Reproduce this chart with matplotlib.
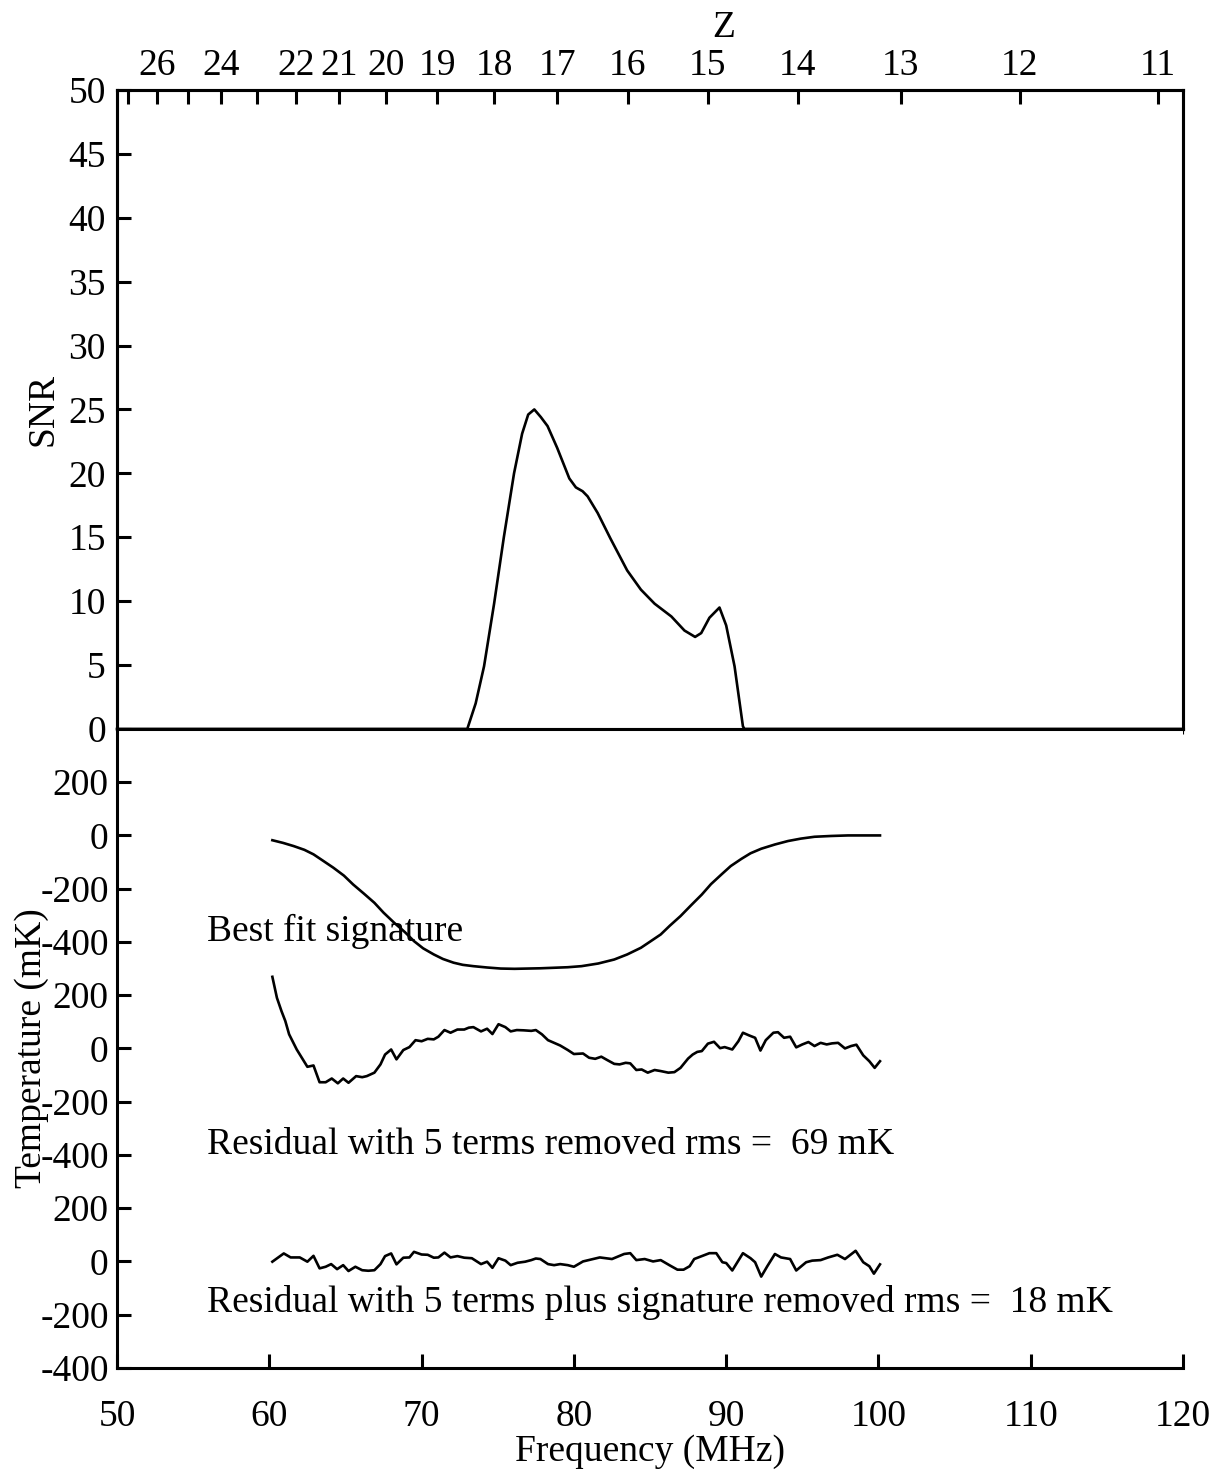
import numpy as np
import matplotlib
matplotlib.use("Agg")
import matplotlib.pyplot as plt

plt.rcParams['font.family'] = ['Liberation Serif', 'DejaVu Serif']
plt.rcParams['font.size'] = 27

# SNR versus frequency (top panel)
snr_freq = [50, 73.0, 73.55, 74.1, 74.76, 75.4, 76.07, 76.6, 77.0, 77.4, 77.83, 78.27,
            78.9, 79.7, 80.13, 80.57, 80.9, 81.56, 82.4, 83.5, 84.4, 85.3, 86.4, 87.26,
            87.96, 88.36, 88.9, 89.56, 90.0, 90.55, 91.1, 91.2, 120]
snr = [0, 0, 2.0, 4.9, 9.8, 15.0, 20.0, 23.1, 24.6, 25.0, 24.4, 23.7,
       22.0, 19.6, 18.9, 18.6, 18.2, 16.9, 14.9, 12.4, 10.9, 9.8, 8.8, 7.7,
       7.2, 7.5, 8.7, 9.5, 8.1, 4.9, 0.2, 0, 0]

# best fit signature (mK)
sig_freq = [60.2, 60.9, 61.6, 62.3, 62.9, 63.5, 64.2, 64.9, 65.5, 66.2, 66.9, 67.5,
            68.2, 68.9, 69.5, 70.1, 70.8, 71.4, 72.1, 72.7, 73.4, 74.3, 75.2,
            76.1, 76.95, 77.8, 78.7, 79.6, 80.5, 81.6, 82.65, 83.5, 84.4, 85.0,
            85.7, 86.3, 87.0, 87.7, 88.4, 89.0, 89.7, 90.3, 91.0, 91.6, 92.3,
            93.2, 94.06, 94.9, 95.8, 96.9, 98.0, 100.1]
sig = [-18, -28, -40, -54, -71, -94, -121, -151, -184, -218, -253, -290,
       -328, -363, -397, -424, -447, -464, -478, -486, -491, -496, -500,
       -501, -500, -499, -497, -495, -491, -481, -466, -447, -422, -399,
       -372, -339, -303, -262, -222, -183, -146, -115, -88, -67, -50,
       -34, -21, -12, -5, -2, 0, 0]

# residual with 5 terms removed (mK)
res5_freq = [60.2, 60.5, 60.8, 61.05, 61.3, 61.8, 62.5, 62.9, 63.3, 63.7,
             64.1, 64.5, 64.85, 65.2, 65.7, 66.1, 66.4, 66.9, 67.3, 67.6,
             68.0, 68.35, 68.8, 69.2, 69.6, 70.0, 70.4, 70.8, 71.1, 71.5,
             71.9, 72.35, 72.8, 73.1, 73.4, 73.9, 74.3, 74.65, 75.05, 75.5,
             75.85, 76.25, 76.7, 77.2, 77.5, 77.9, 78.3, 78.7, 79.1, 79.6, 80.0,
             80.6, 81.0, 81.4, 81.8, 82.2, 82.65, 83.0, 83.4, 83.7, 84.1,
             84.45, 84.85, 85.3, 85.7, 86.2, 86.6, 87.0, 87.5, 87.8, 88.1,
             88.4, 88.8, 89.2, 89.6, 89.9, 90.4, 90.8, 91.1, 91.5, 91.9,
             92.25, 92.6, 93.1, 93.4, 93.8, 94.2, 94.6, 95.0, 95.4, 95.8,
             96.2, 96.6, 96.95, 97.35, 97.8, 98.2, 98.55, 99.0, 99.4, 99.75, 100.1]
res5 = [269, 190, 140, 103, 53, -4, -69, -64, -127, -127,
        -113, -131, -113, -129, -104, -108, -104, -91, -60, -23,
        -4, -41, -6, 5, 31, 27, 36, 34, 44, 69,
        59, 71, 71, 78, 80, 64, 74, 54, 91, 80,
        64, 69, 68, 66, 69, 53, 31, 21, 11, -6, -21,
        -19, -35, -39, -31, -44, -58, -60, -54, -56, -81,
        -79, -91, -81, -85, -91, -89, -73, -38, -23, -13,
        -10, 18, 25, 1, 5, -4, 27, 59, 49, 40,
        -8, 31, 59, 61, 40, 44, 4, 15, 24, 9,
        21, 15, 19, 21, 0, 9, 14, -26, -48, -73, -48]

# residual with 5 terms plus signature removed (mK)
ressig_freq = [60.2, 60.95, 61.4, 62.0, 62.5, 62.9, 63.3, 63.7, 64.06, 64.45,
               64.85, 65.2, 65.65, 66.1, 66.5, 66.9, 67.3, 67.6, 68.0, 68.35,
               68.8, 69.2, 69.5, 70.0, 70.4, 70.8, 71.1, 71.5, 71.9, 72.35,
               72.8, 73.3, 73.9, 74.3, 74.65, 75.05, 75.5, 75.85, 76.3, 76.8,
               77.2, 77.5, 77.8, 78.3, 78.7, 79.1, 79.6, 80.0,
               80.6, 81.7, 82.5, 83.3, 83.7, 84.1, 84.65, 85.2, 85.7, 86.3,
               86.8, 87.2, 87.6, 87.9, 88.4, 88.9, 89.35, 89.75, 90.0, 90.4,
               91.1, 91.6, 91.9, 92.3, 92.7, 93.2, 93.6, 94.2, 94.6, 95.25,
               95.65, 96.2, 96.7, 97.3, 97.8, 98.5, 99.0, 99.4, 99.7, 100.1]
ressig = [-1, 30, 15, 15, -1, 21, -26, -20, -10, -29,
          -14, -36, -20, -33, -35, -33, -10, 20, 30, -11,
          14, 15, 36, 26, 25, 14, 15, 33, 15, 20,
          14, 12, -10, -1, -24, 12, 3, -14, -5, -1,
          5, 11, 9, -10, -14, -10, -14, -20,
          0, 15, 9, 28, 31, 5, 9, 0, 5, -15,
          -31, -31, -18, 9, 20, 31, 31, -3, -6, -34,
          31, 12, -3, -57, -18, 28, 15, 9, -34, -3,
          3, 5, 15, 25, 9, 40, -3, -18, -46, -11]

# vertical offsets of the stacked traces and their captions
offsets = [1600, 800, 0]
captions = ["Best fit signature",
            "Residual with 5 terms removed rms =  69 mK",
            "Residual with 5 terms plus signature removed rms =  18 mK"]
caption_y = [-362, -362, -156]

# redshift ticks for the top axis
z_ticks = [27, 26, 25, 24, 23, 22, 21, 20, 19, 18, 17, 16, 15, 14, 13, 12, 11]
z_labels = ["", "26", "", "24", "", "22", "21", "20", "19", "18", "17", "16",
            "15", "14", "13", "12", "11"]

temp_ticks = [-400, -200, 0, 200, 400, 600, 800, 1000, 1200, 1400, 1600, 1800]
temp_labels = ["-400", "-200", "0", "200", "-400", "-200", "0", "200",
               "-400", "-200", "0", "200"]

fig = plt.figure(figsize=(12.14, 14.72), dpi=100)
left, right = 0.0964, 0.9745
ax1 = fig.add_axes([left, 0.5048, right - left, 0.9389 - 0.5048])
ax2 = fig.add_axes([left, 0.0707, right - left, 0.5048 - 0.0707])

lw = 1.9
spw = 2.2

# top panel
ax1.plot(snr_freq, snr, color='black', lw=lw, clip_on=False)
ax1.set_xlim(50, 120)
ax1.set_ylim(0, 50)
ax1.set_yticks(np.arange(0, 51, 5))
ax1.set_ylabel("SNR", labelpad=6)
ax1.tick_params(axis='y', direction='in', length=10, width=spw, pad=8)
ax1.tick_params(axis='x', bottom=False, labelbottom=False)
for s in ax1.spines.values():
    s.set_linewidth(spw)

axz = ax1.twiny()
axz.set_xlim(50, 120)
axz.set_xticks([1420.4 / (z + 1) for z in z_ticks])
axz.set_xticklabels(z_labels)
axz.tick_params(axis='x', direction='in', length=10, width=spw, pad=5)
axz.set_xlabel("Z")
axz.xaxis.set_label_coords(0.569, 1.083)
for s in axz.spines.values():
    s.set_linewidth(spw)

# bottom panel
for f, vals, off in zip([sig_freq, res5_freq, ressig_freq], [sig, res5, ressig], offsets):
    ax2.plot(f, np.array(vals) + off, color='black', lw=lw)
for txt, cy, off in zip(captions, caption_y, offsets):
    ax2.text(55.9, cy + off, txt, ha='left', va='center')

ax2.set_xlim(50, 120)
ax2.set_ylim(-400, 2000)
ax2.set_yticks(temp_ticks)
ax2.set_yticklabels(temp_labels)
ax2.set_xticks(np.arange(50, 121, 10))
ax2.tick_params(axis='y', direction='in', length=10, width=spw, pad=6)
ax2.tick_params(axis='x', direction='in', length=10, width=spw, pad=23)
ax2.spines['right'].set_visible(False)
ax2.spines['top'].set_visible(False)
for s in ax2.spines.values():
    s.set_linewidth(spw)
ax2.set_xlabel("Frequency (MHz)", labelpad=0)
ax2.set_ylabel("Temperature (mK)", labelpad=-6)

fig.savefig("out.png", dpi=100)
